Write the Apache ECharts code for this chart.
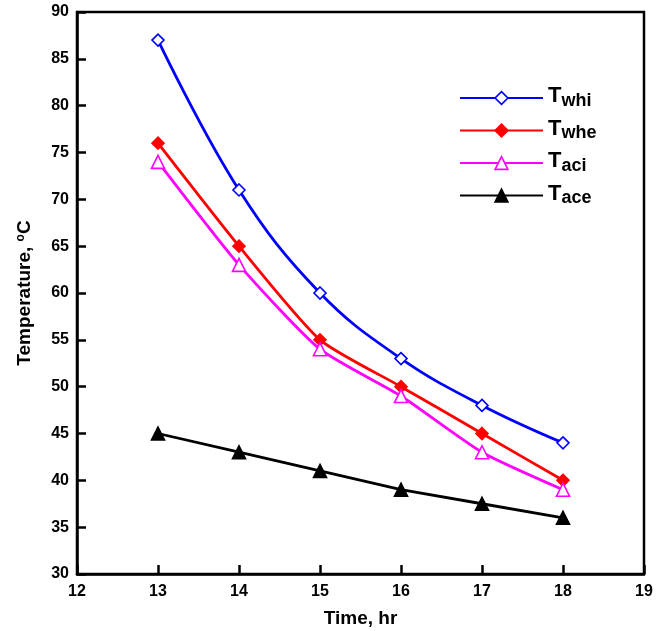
<!DOCTYPE html>
<html>
<head>
<meta charset="utf-8">
<script src="https://cdn.jsdelivr.net/npm/echarts@6/dist/echarts.min.js"></script>
<style>html,body{margin:0;padding:0;background:#fff}#c{width:666px;height:631px}</style>
</head>
<body>
<div id="c"></div>
<script>
const hours = [13, 14, 15, 16, 17, 18];
const Twhi = [87, 71, 60, 53, 48, 44];
const Twhe = [76, 65, 55, 50, 45, 40];
const Taci = [74, 63, 54, 49, 43, 39];
const Tace = [45, 43, 41, 39, 37.5, 36];
const xTicks = [12, 13, 14, 15, 16, 17, 18, 19];
const yTicks = [30, 35, 40, 45, 50, 55, 60, 65, 70, 75, 80, 85, 90];

const pair = arr => hours.map((h, i) => [h, arr[i]]);
const font = 'Liberation Sans, Arial, sans-serif';

const chart = echarts.init(document.getElementById('c'), null, {renderer: 'canvas'});
const mk = (name, data, color, symbol, filled, smooth) => ({
  name, type: 'line', data: pair(data), smooth,
  symbol, symbolSize: symbol === 'diamond' ? 12 : 13,
  lineStyle: {color, width: 2.8},
  itemStyle: {color: filled ? color : '#fff', borderColor: color, borderWidth: 1.6},
  emphasis: {disabled: true}, z: 3
});
chart.setOption({
  animation: false,
  grid: {left: 77, right: 22, top: 12, bottom: 57, outerBoundsMode: 'none', containLabel: false,
    show: true, borderColor: '#000', borderWidth: 2.5, backgroundColor: 'transparent'},
  xAxis: {
    type: 'value', min: xTicks[0], max: xTicks[xTicks.length - 1], interval: 1,
    name: 'Time, hr', nameLocation: 'middle', nameGap: 35,
    nameTextStyle: {fontFamily: font, fontWeight: 'bold', fontSize: 19, color: '#000'},
    axisLine: {show: true, lineStyle: {color: '#000', width: 2.5}},
    axisTick: {show: true, inside: true, length: 9, lineStyle: {color: '#000', width: 2.5}},
    axisLabel: {fontFamily: font, fontWeight: 'bold', fontSize: 16, color: '#000', margin: 10},
    splitLine: {show: false}
  },
  yAxis: {
    type: 'value', min: yTicks[0], max: yTicks[yTicks.length - 1], interval: 5,
    name: 'Temperature, {s|o}C', nameLocation: 'middle', nameGap: 42,
    nameTextStyle: {fontFamily: font, fontWeight: 'bold', fontSize: 19, color: '#000',
      rich: {s: {fontFamily: font, fontWeight: 'bold', fontSize: 12, color: '#000', verticalAlign: 'top', padding: [0, 0, 8, 0]}}},
    axisLine: {show: true, lineStyle: {color: '#000', width: 2.5}},
    axisTick: {show: true, inside: true, length: 9, lineStyle: {color: '#000', width: 2.5}},
    axisLabel: {fontFamily: font, fontWeight: 'bold', fontSize: 16, color: '#000', margin: 8},
    splitLine: {show: false}
  },
  legend: {
    orient: 'vertical', left: 454, top: 80, itemWidth: 83, itemHeight: 16, itemGap: 7.5,
    data: ['Twhi', 'Twhe', 'Taci', 'Tace'],
    formatter: n => '{t|T}{s|' + n.slice(1) + '}',
    textStyle: {
      rich: {
        t: {fontFamily: font, fontWeight: 'bold', fontSize: 22, color: '#000', padding: [0, 0, 4, 0]},
        s: {fontFamily: font, fontWeight: 'bold', fontSize: 18, color: '#000', padding: [6, 0, 0, 0]}
      }
    },
    itemStyle: {borderWidth: 1.6}
  },
  series: [
    mk('Twhi', Twhi, '#0000ff', 'diamond', false, 0.4),
    mk('Twhe', Twhe, '#ff0000', 'diamond', true, 0.2),
    mk('Taci', Taci, '#ff00ff', 'triangle', false, 0.2),
    mk('Tace', Tace, '#000000', 'triangle', true, false)
  ]
});
</script>
</body>
</html>
